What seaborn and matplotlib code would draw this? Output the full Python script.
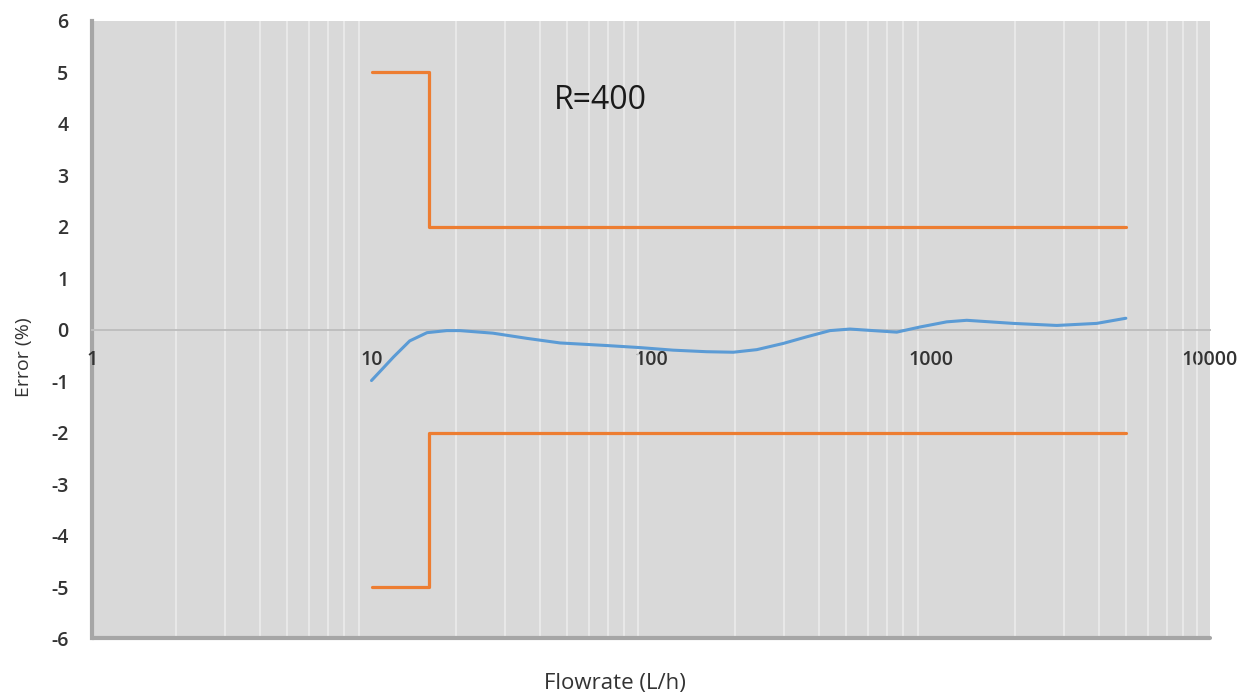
import matplotlib
matplotlib.use("Agg")
import matplotlib.pyplot as plt
import numpy as np
import seaborn as sns
from matplotlib.ticker import LogLocator, FixedLocator, NullFormatter

flow = [10, 11, 12, 13.7, 15.8, 18.6, 20.7, 27.2, 35.9, 47.3, 69.4, 91.3, 120,
        158, 197, 239, 297, 361, 437, 515, 623, 757, 917, 1143, 1348, 1974,
        2830, 3933, 5000]
error = [-0.99, -0.75, -0.53, -0.22, -0.06, -0.02, -0.02, -0.07, -0.17, -0.26,
         -0.31, -0.35, -0.40, -0.43, -0.44, -0.39, -0.27, -0.14, -0.02, 0.01,
         -0.02, -0.05, 0.05, 0.15, 0.18, 0.12, 0.08, 0.12, 0.22]

# maximum permissible error envelope
limit_x = [10, 16, 16, 5000]
upper_y = [5, 5, 2, 2]
lower_y = [-5, -5, -2, -2]

x_ticks = [1, 10, 100, 1000, 10000]
x_labels = ["1", "10", "100", "1000", "10000"]
y_ticks = list(range(-6, 7))

sns.set_theme(style="white")
plt.rcParams['font.family'] = ['Open Sans', 'DejaVu Sans']
plt.rcParams['axes.unicode_minus'] = False

text_col = "#333333"
frame_col = "#a6a6a6"

fig = plt.figure(figsize=(12.5, 6.95), dpi=100)
ax = fig.add_axes([0.0736, 0.0813, 0.8944, 0.889])
ax.set_facecolor("#d9d9d9")
ax.set_xscale("log")

sns.lineplot(x=limit_x, y=upper_y, sort=False, estimator=None,
             color="#ED7D31", lw=2.3, ax=ax, zorder=3)
sns.lineplot(x=limit_x, y=lower_y, sort=False, estimator=None,
             color="#ED7D31", lw=2.3, ax=ax, zorder=3)
sns.lineplot(x=flow, y=error, sort=False, estimator=None,
             color="#5B9BD5", lw=2.2, ax=ax, zorder=4)

ax.set_xlim(1, 10000)
ax.set_ylim(-6, 6)

ax.xaxis.set_major_locator(FixedLocator(x_ticks))
ax.set_xticklabels(x_labels)
ax.xaxis.set_minor_locator(LogLocator(base=10, subs=np.arange(2, 10)))
ax.xaxis.set_minor_formatter(NullFormatter())
ax.set_yticks(y_ticks)
ax.grid(True, which="minor", axis="x", color="#ededed", lw=1.1)

# x axis crosses at zero
ax.spines["bottom"].set_position(("data", 0))
ax.spines["bottom"].set_color("#bfbfbf")
ax.spines["bottom"].set_linewidth(1.4)
ax.spines["bottom"].set_zorder(0.6)
ax.spines["left"].set_color(frame_col)
ax.spines["left"].set_linewidth(3)
ax.spines["left"].set_zorder(0.4)
ax.spines["top"].set_visible(False)
ax.spines["right"].set_visible(False)
ax.axhline(-6, color=frame_col, lw=3, clip_on=False, zorder=5)
ax.xaxis.set_zorder(0.5)
ax.yaxis.set_zorder(0.5)

ax.tick_params(axis="x", which="both", length=0, pad=15, labelsize=14,
               labelcolor=text_col)
ax.tick_params(axis="y", length=0, pad=17, labelsize=14, labelcolor=text_col)
for lab in ax.get_xticklabels() + ax.get_yticklabels():
    lab.set_fontweight("semibold")

ax.text(66, 4.45, "R=400", ha="center", va="center", fontsize=23,
        color="#1a1a1a", zorder=6)

fig.text(615 / 1250, 1 - 683 / 695, "Flowrate (L/h)", ha="center",
         va="center", fontsize=16, color=text_col)
fig.text(24 / 1250, 1 - 357 / 695, "Error (%)", ha="center", va="center",
         rotation=90, fontsize=14, color=text_col)

plt.savefig("out.png", dpi=100)
